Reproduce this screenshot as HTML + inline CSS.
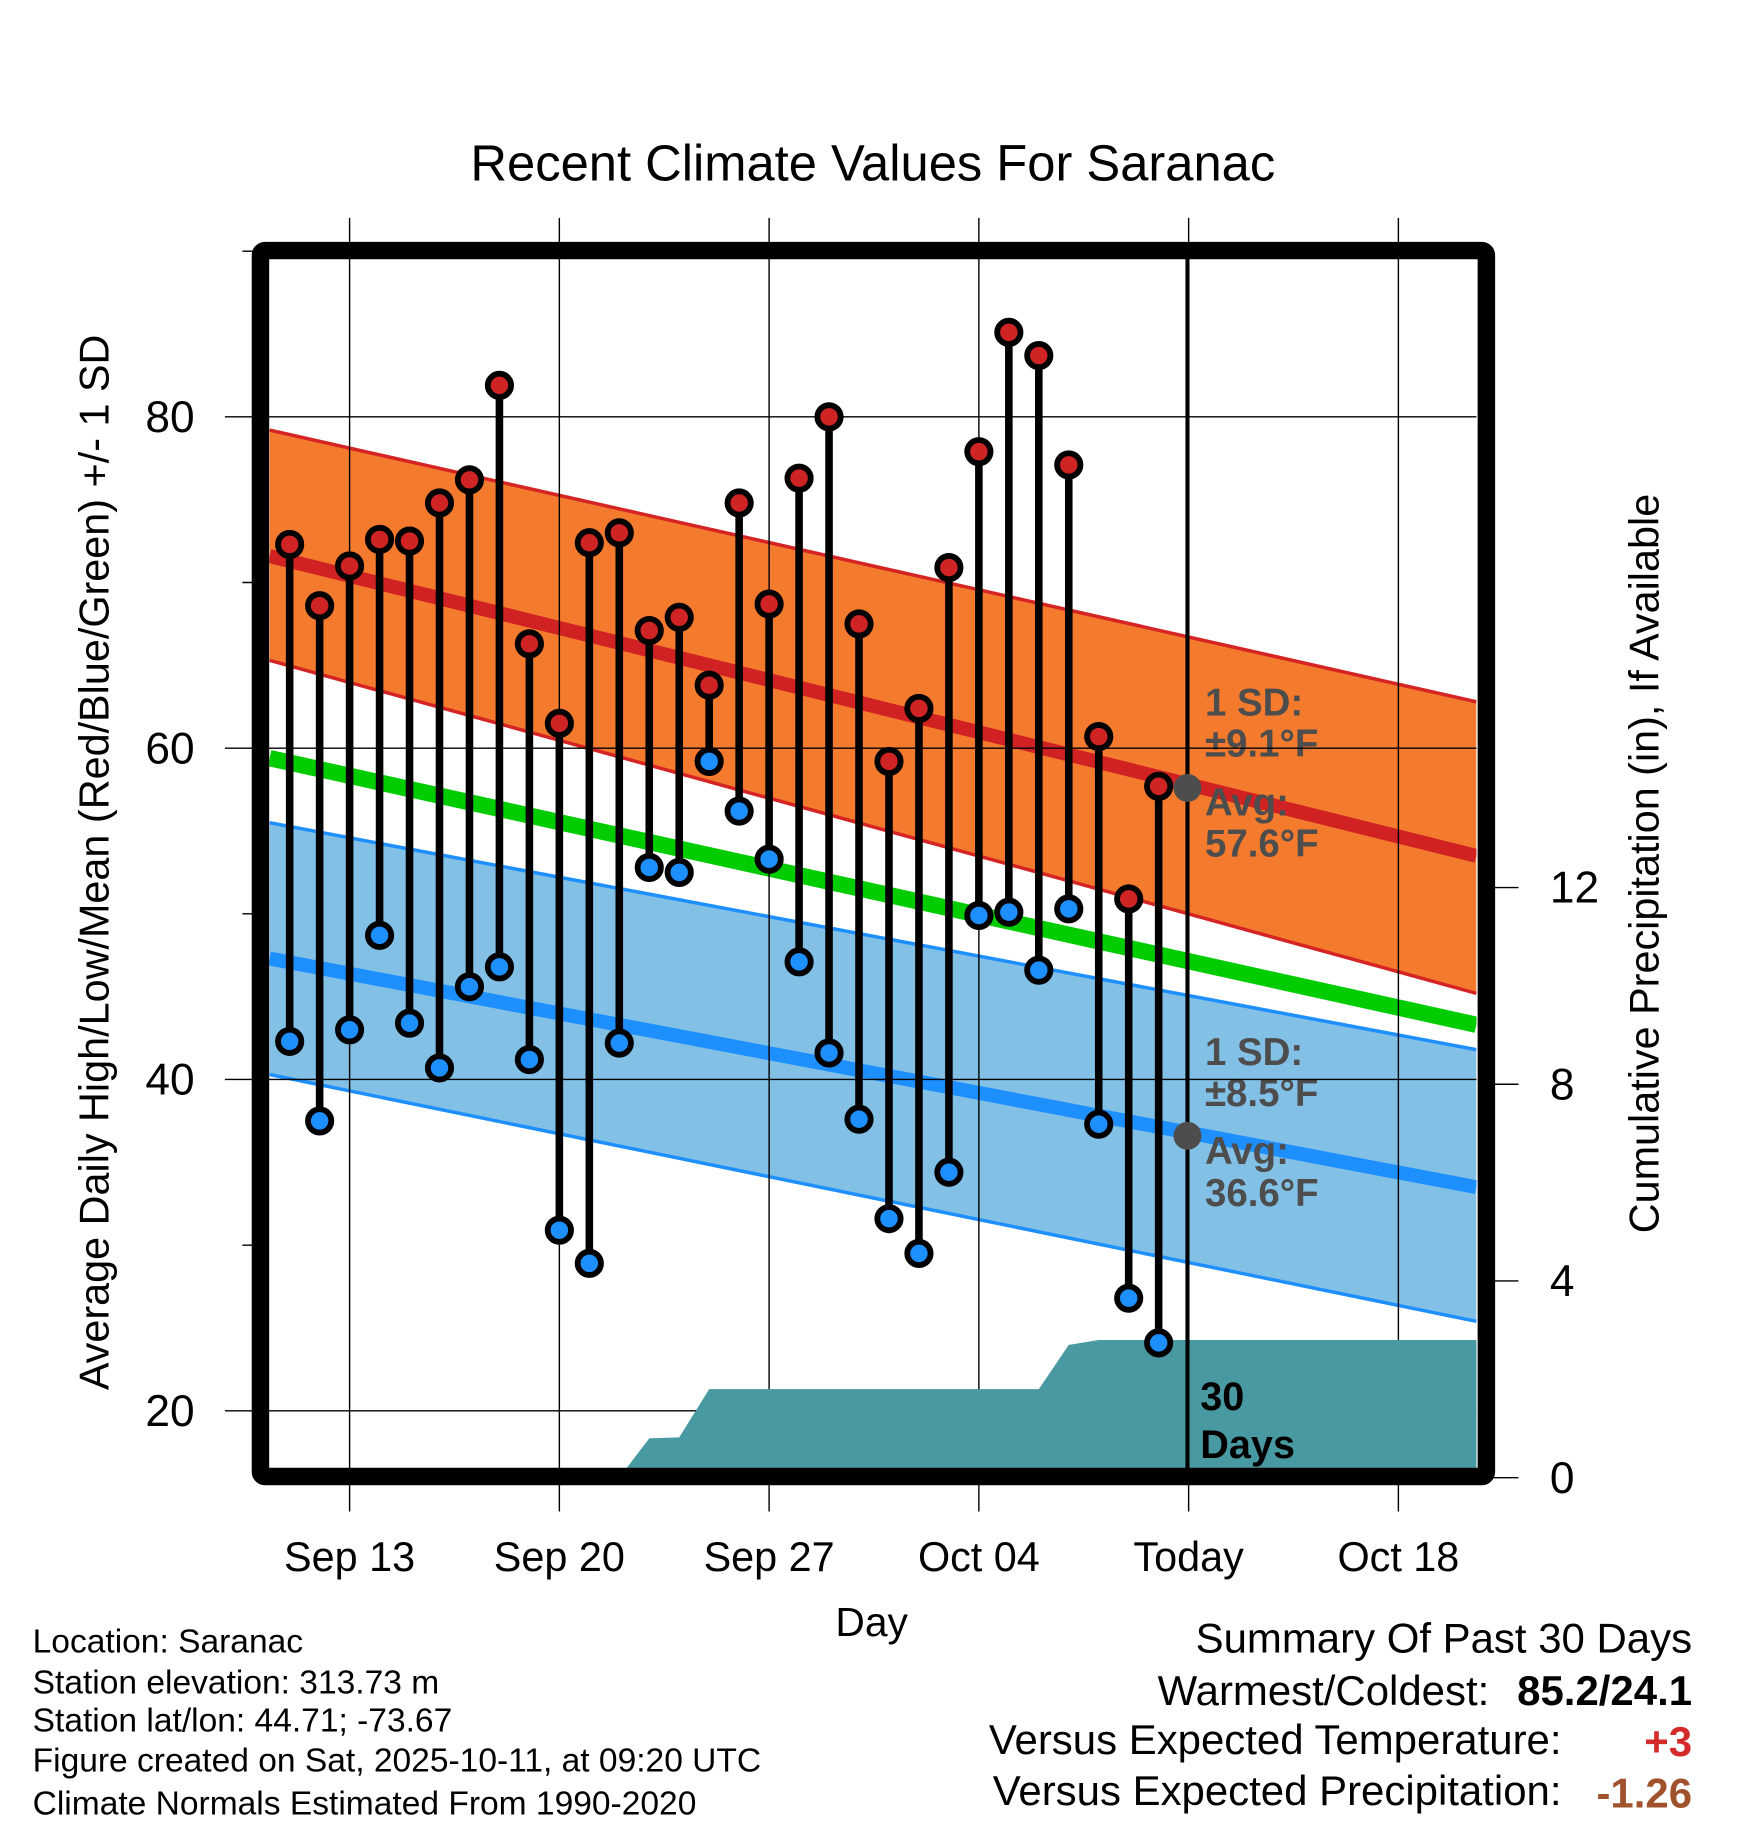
<!DOCTYPE html>
<html><head><meta charset="utf-8"><style>
html,body{margin:0;padding:0;background:#fff;width:1748px;height:1828px;overflow:hidden}
svg{display:block;font-family:"Liberation Sans",Arial,sans-serif}
</style></head><body>
<svg id="chart" width="1748" height="1828" viewBox="0 0 1500 1568.6" preserveAspectRatio="none" xmlns="http://www.w3.org/2000/svg">
<defs><clipPath id="plotclip"><rect x="231" y="222" width="1036" height="1038"/></clipPath></defs>
<g id="plot" clip-path="url(#plotclip)"></g>
<g id="axes"></g>
<text x="749" y="155" text-anchor="middle" font-size="43.5">Recent Climate Values For Saranac</text>
<text x="748" y="1404" text-anchor="middle" font-size="35">Day</text>
<text transform="translate(93,740) rotate(-90)" text-anchor="middle" font-size="35.5">Average Daily High/Low/Mean (Red/Blue/Green) +/- 1 SD</text>
<text transform="translate(1423,741) rotate(-90)" text-anchor="middle" font-size="35.5">Cumulative Precipitation (in), If Available</text>
<g font-size="28.8">
<text x="28" y="1418">Location: Saranac</text>
<text x="28" y="1453">Station elevation: 313.73 m</text>
<text x="28" y="1486">Station lat/lon: 44.71; -73.67</text>
<text x="28" y="1520">Figure created on Sat, 2025-10-11, at 09:20 UTC</text>
<text x="28" y="1557">Climate Normals Estimated From 1990-2020</text>
</g>
<g font-size="36">
<text x="1452" y="1418" text-anchor="end">Summary Of Past 30 Days</text>
<text x="1278" y="1463" text-anchor="end">Warmest/Coldest:</text>
<text x="1452" y="1463" text-anchor="end" font-weight="bold">85.2/24.1</text>
<text x="1340" y="1505" text-anchor="end">Versus Expected Temperature:</text>
<text x="1452" y="1507" text-anchor="end" font-weight="bold" fill="#d42a2a">+3</text>
<text x="1340" y="1549" text-anchor="end">Versus Expected Precipitation:</text>
<text x="1452" y="1551" text-anchor="end" font-weight="bold" fill="#a0522d">-1.26</text>
</g>
</svg>
<script>
// Data (day index 0 = Sep 11)
const dayLabels = ["Sep 11","Sep 12","Sep 13","Sep 14","Sep 15","Sep 16","Sep 17","Sep 18","Sep 19","Sep 20","Sep 21","Sep 22","Sep 23","Sep 24","Sep 25","Sep 26","Sep 27","Sep 28","Sep 29","Sep 30","Oct 01","Oct 02","Oct 03","Oct 04","Oct 05","Oct 06","Oct 07","Oct 08","Oct 09","Oct 10"];
const highs = [72.3,68.6,71.0,72.6,72.5,74.8,76.2,81.9,66.3,61.5,72.4,73.0,67.1,67.9,63.8,74.8,68.7,76.3,80.0,67.5,59.2,62.4,70.9,77.9,85.1,83.7,77.1,60.7,50.9,57.7];
const lows = [42.3,37.5,43.0,48.7,43.4,40.7,45.6,46.8,41.2,30.9,28.9,42.2,52.8,52.5,59.2,56.2,53.3,47.1,41.6,37.6,31.6,29.5,34.4,49.9,50.1,46.6,50.3,37.3,26.8,24.1];
const precipCum = [0,0,0,0,0,0,0,0,0,0,0,0,0.8,0.82,1.8,1.8,1.8,1.8,1.8,1.8,1.8,1.8,1.8,1.8,1.8,1.8,2.7,2.8,2.8,2.8];
// Normals at day positions (start, end of plot)
const normDays = [-0.67, 39.6];
const highMean = [71.6,53.5];
const highUpper = [79.2,62.8];
const highLower = [65.3,45.2];
const meanNorm = [59.4,43.3];
const lowMean = [47.3,33.5];
const lowUpper = [55.5,41.8];
const lowLower = [40.3,25.4];
const xTickDays = [2,9,16,23,30,37];
const xTickLabels = ["Sep 13","Sep 20","Sep 27","Oct 04","Today","Oct 18"];
const yTicks = [20,40,60,80];
const yMinor = [30,50,70,90];
const y2Ticks = [0,4,8,12];

const X = d => 300 + (d-2)*25.714;
const Y = v => 642 - (v-60)*14.215;
const Y2 = p => 1268 - p*42.2;
const NS="http://www.w3.org/2000/svg";
const plot=document.getElementById('plot'), axes=document.getElementById('axes'), svg=document.getElementById('chart');
function mk(tag,attrs,parent){const e=document.createElementNS(NS,tag);for(const k in attrs)e.setAttribute(k,attrs[k]);(parent||plot).appendChild(e);return e;}
function band(up,lo,fill,edge,name){
  let pts=normDays.map((d,i)=>X(d)+','+Y(up[i])).concat(normDays.slice().reverse().map((d,j)=>{const i=normDays.length-1-j;return X(d)+','+Y(lo[i]);}));
  const p=mk('polygon',{points:pts.join(' '),fill:fill});
  
  
  [up,lo].forEach(a=>{const l=mk('polyline',{points:normDays.map((d,i)=>X(d)+','+Y(a[i])).join(' '),fill:'none',stroke:edge,'stroke-width':3});
    
    });
}
function line(a,color,w,name){const l=mk('polyline',{points:normDays.map((d,i)=>X(d)+','+Y(a[i])).join(' '),fill:'none',stroke:color,'stroke-width':w});
  
  }
band(highUpper,highLower,'#f47a2d','#d42424','high-sd-band');
line(highMean,'#d02222',12,'normal-high-line');
band(lowUpper,lowLower,'#82c0e6','#1e8fff','low-sd-band');
line(lowMean,'#1e8fff',12,'normal-low-line');
line(meanNorm,'#00cc00',14,'normal-mean-line');
// annotations
[[614,'1 SD:'],[649,'±9.1°F'],[700,'Avg:'],[735,'57.6°F'],[914,'1 SD:'],[949,'±8.5°F'],[999,'Avg:'],[1035,'36.6°F']].forEach(t=>{
  const e=mk('text',{x:1034,y:t[0],'font-size':33,'font-weight':'bold',fill:'#4d4d4d'});e.textContent=t[1];
  
  
});
// gridlines
xTickDays.forEach(d=>{const g=mk('line',{x1:X(d),x2:X(d),y1:187,y2:1297,stroke:'#000','stroke-width':1.2},axes);
  
  });
yTicks.forEach(v=>{const g=mk('line',{x1:193,x2:1267,y1:Y(v),y2:Y(v),stroke:'#000','stroke-width':1.2},axes);
  
  });
yMinor.forEach(v=>{const g=mk('line',{x1:208,x2:224,y1:Y(v),y2:Y(v),stroke:'#000','stroke-width':1.2},axes);
  
  });
// precip area
const pG=document.createElementNS(NS,'g');pG.setAttribute('clip-path','url(#plotclip)');svg.insertBefore(pG,axes.nextSibling);
let ppts=[X(0)+','+Y2(0)];precipCum.forEach((p,i)=>ppts.push(X(i)+','+Y2(p)));ppts.push('1267,'+Y2(precipCum[precipCum.length-1]));ppts.push('1267,'+Y2(0));
const pa=mk('polygon',{points:ppts.join(' '),fill:'#4899a1'},pG);


// today line
const tl=mk('line',{x1:1019,x2:1019,y1:222,y2:1262,stroke:'#000','stroke-width':3.5},pG);


[[1210,'30'],[1251,'Days']].forEach(t=>{const e=mk('text',{x:1030,y:t[0],'font-size':34,'font-weight':'bold',fill:'#000'},pG);e.textContent=t[1];
  
  });
// avg dots
[[Y(57.6)],[Y(36.6)]].forEach(a=>{const c=mk('circle',{cx:1019,cy:a[0],r:12,fill:'#4d4d4d'},pG);
  
  });
// stems & markers
highs.forEach((h,i)=>{
  const s=mk('line',{x1:X(i),x2:X(i),y1:Y(h),y2:Y(lows[i]),stroke:'#000','stroke-width':6.5},pG);
  
  
  const a=mk('circle',{cx:X(i),cy:Y(h),r:10,fill:'#d02424',stroke:'#000','stroke-width':5},pG);
  
  
  const b=mk('circle',{cx:X(i),cy:Y(lows[i]),r:10,fill:'#1e8fff',stroke:'#000','stroke-width':5},pG);
  
  
});
// frame
const fr=mk('rect',{x:223.5,y:215,width:1052,height:1052,fill:'none',stroke:'#000','stroke-width':15,rx:4},svg);


// tick labels
xTickDays.forEach((d,i)=>{const e=mk('text',{x:X(d),y:1348,'text-anchor':'middle','font-size':35.5},svg);e.textContent=xTickLabels[i];
  
  });
yTicks.forEach(v=>{const e=mk('text',{x:167,y:Y(v)+13,'text-anchor':'end','font-size':38},svg);e.textContent=v;
  
  });
y2Ticks.forEach(p=>{const t=mk('line',{x1:1275,x2:1303,y1:Y2(p),y2:Y2(p),stroke:'#000','stroke-width':1.2},svg);
  
  
  const e=mk('text',{x:1330,y:Y2(p)+13,'font-size':38},svg);e.textContent=p;
  
  });
</script>
</body></html>
